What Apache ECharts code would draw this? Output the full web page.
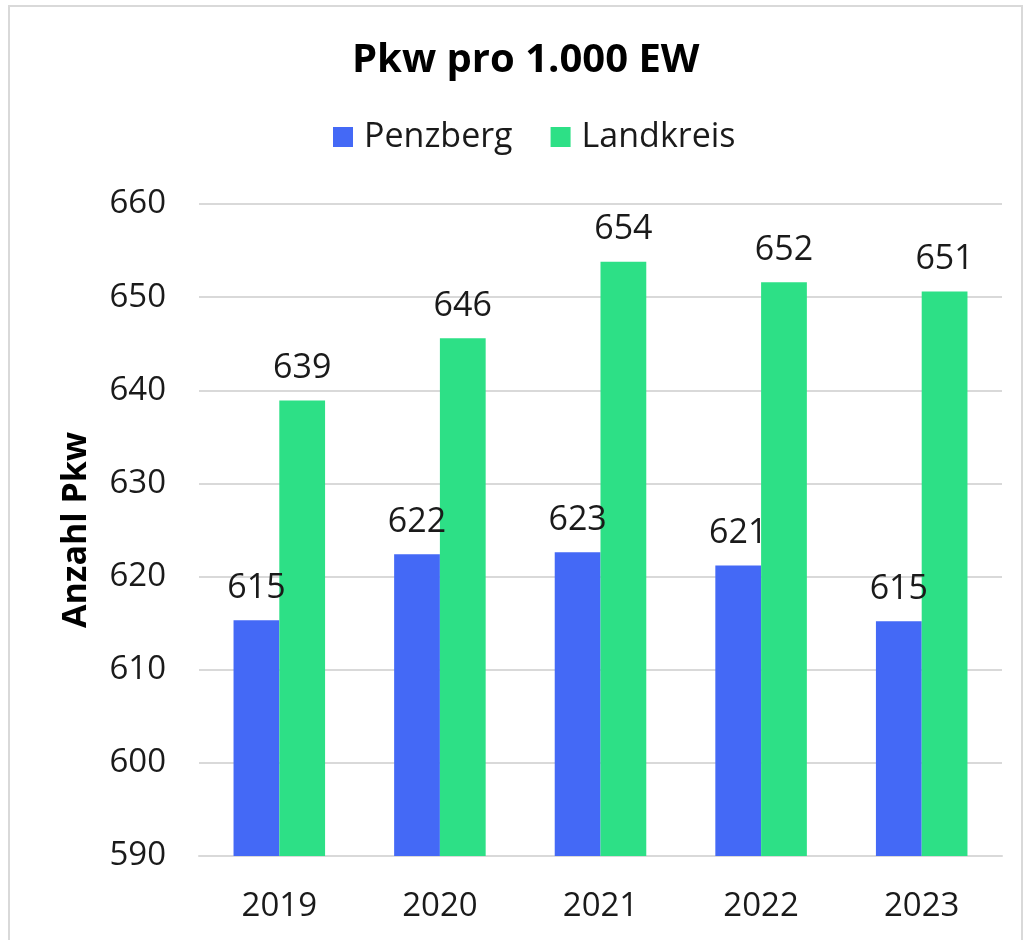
<!DOCTYPE html>
<html>
<head>
<meta charset="utf-8">
<script src="https://cdn.jsdelivr.net/npm/echarts@6/dist/echarts.min.js"></script>
<style>
  html, body { margin: 0; padding: 0; background: #fff; }
  .frame { position: absolute; left: 8px; top: 5px; width: 1015px; height: 950px; border: 2px solid #d9d9d9; box-sizing: border-box; }
  #chart { position: absolute; left: 0; top: 0; width: 1033px; height: 940px; }
</style>
</head>
<body>
<div class="frame"></div>
<div id="chart"></div>
<script>
const years = ['2019', '2020', '2021', '2022', '2023'];
const penzberg = [615.3, 622.4, 622.6, 621.2, 615.2];
const landkreis = [638.9, 645.6, 653.8, 651.6, 650.6];
const yTicks = { min: 590, max: 660, step: 10 };

(function() {
  let myChart = echarts.init(document.getElementById('chart'))
  const font = '"Open Sans", "Noto Sans", sans-serif'
  // Datenbeschriftung über den Balken
  const barLabel = {
    show: true,
    position: 'top',
    distance: 15,
    fontSize: 34,
    fontFamily: font,
    color: '#1a1a1a',
    formatter: function(p) { return Math.round(p.value) }
  }
  let option = {
    animation: false,
    color: ['#4469F6', '#2DE086'],
    title: {
      text: 'Pkw pro 1.000 EW',
      left: 347,
      top: 36,
      textStyle: { fontSize: 40, fontWeight: 'bold', fontFamily: font, color: '#000' }
    },
    legend: {
      top: 115,
      left: 328,
      itemWidth: 20,
      itemHeight: 20,
      itemGap: 38,
      icon: 'rect',
      textStyle: { fontSize: 34, fontFamily: font, color: '#1a1a1a', padding: [0, 0, 0, 6] }
    },
    grid: {
      left: 199,
      right: 31,
      top: 204,
      bottom: 84
    },
    xAxis: {
      type: 'category',
      data: years,
      axisTick: { show: false },
      axisLine: { lineStyle: { color: '#d9d9d9', width: 2 } },
      axisLabel: { fontSize: 33, fontFamily: font, color: '#1a1a1a', margin: 34 }
    },
    yAxis: {
      type: 'value',
      min: yTicks.min,
      max: yTicks.max,
      interval: yTicks.step,
      name: 'Anzahl Pkw',
      nameLocation: 'middle',
      nameGap: 106,
      nameTextStyle: { fontSize: 34, fontWeight: 'bold', fontFamily: font, color: '#000' },
      axisLine: { show: false },
      axisTick: { show: false },
      axisLabel: { fontSize: 33, fontFamily: font, color: '#1a1a1a', margin: 33 },
      splitLine: { lineStyle: { color: '#d9d9d9', width: 2 } }
    },
    series: [
      {
        name: 'Penzberg',
        type: 'bar',
        data: penzberg,
        barGap: '0%',
        barCategoryGap: '43%',
        label: barLabel
      },
      {
        name: 'Landkreis',
        type: 'bar',
        data: landkreis,
        barGap: '0%',
        barCategoryGap: '43%',
        label: barLabel
      }
    ]
  }
  myChart.setOption(option);
  window.addEventListener('resize', function() {
    myChart.resize()
  })
})();
</script>
</body>
</html>
